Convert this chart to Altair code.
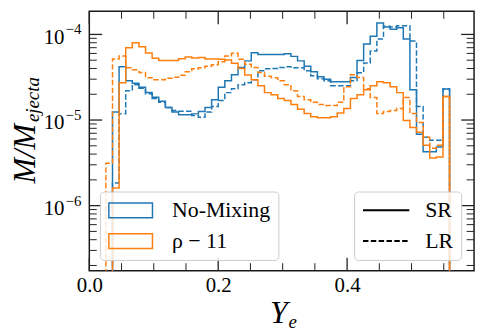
import altair as alt
import pandas as pd

# ---- data ----
EDGES = [0.0257, 0.0360, 0.0462, 0.0565, 0.0667, 0.0770, 0.0872, 0.0975, 0.1077, 0.1180,
         0.1283, 0.1385, 0.1488, 0.1590, 0.1693, 0.1795, 0.1898, 0.2001, 0.2103, 0.2206,
         0.2308, 0.2411, 0.2513, 0.2616, 0.2718, 0.2821, 0.2924, 0.3026, 0.3129, 0.3231,
         0.3334, 0.3436, 0.3539, 0.3642, 0.3744, 0.3847, 0.3949, 0.4052, 0.4154, 0.4257,
         0.4359, 0.4462, 0.4565, 0.4667, 0.4770, 0.4872, 0.4975, 0.5077, 0.5180, 0.5282,
         0.5385, 0.5488, 0.5590]

NM_SR = [0, 1.24e-5, 4.18e-5, 2.88e-5, 2.69e-5, 2.41e-5, 2.1e-5, 1.84e-5, 1.66e-5, 1.4e-5,
         1.24e-5, 1.15e-5, 1.15e-5, 1.18e-5, 1.26e-5, 1.4e-5, 1.73e-5, 2.42e-5, 2.88e-5, 3.38e-5,
         4.1e-5, 4.91e-5, 6.12e-5, 5.83e-5, 5.83e-5, 5.83e-5, 5.83e-5, 5.96e-5, 5.54e-5, 4.91e-5,
         4.24e-5, 3.66e-5, 3.2e-5, 2.99e-5, 2.8e-5, 2.8e-5, 2.8e-5, 3.14e-5, 4.97e-5, 7.72e-5,
         9.55e-5, 1.36e-4, 1.22e-4, 1.15e-4, 1.2e-4, 8.83e-5, 2.26e-5, 6.81e-6, 4.25e-6, 4.25e-6,
         4.85e-6, 2.31e-5]

NM_LR = [0, 1.84e-6, 1.18e-5, 2.2e-5, 2.59e-5, 2.35e-5, 2.03e-5, 1.78e-5, 1.61e-5, 1.4e-5,
         1.29e-5, 1.27e-5, 1.27e-5, 1.13e-5, 1.08e-5, 1.24e-5, 1.44e-5, 1.69e-5, 2.09e-5, 2.32e-5,
         2.59e-5, 2.73e-5, 2.95e-5, 3.76e-5, 3.96e-5, 3.99e-5, 4.1e-5, 4.18e-5, 4.07e-5, 4.07e-5,
         3.76e-5, 3.29e-5, 3.03e-5, 2.88e-5, 2.52e-5, 2.52e-5, 2.52e-5, 2.88e-5, 3.56e-5, 4.65e-5,
         6.4e-5, 8.83e-5, 1.25e-4, 1.22e-4, 1.26e-4, 1.26e-4, 8.36e-5, 1.44e-5, 6.28e-6, 5.8e-6,
         5.8e-6, 2.31e-5]

R11_SR = [0, 1.61e-6, 2.73e-5, 7.0e-5, 8.0e-5, 7.18e-5, 6.07e-5, 5.27e-5, 4.97e-5, 4.97e-5,
          4.97e-5, 5.2e-5, 5.45e-5, 5.31e-5, 5.38e-5, 5.17e-5, 5.17e-5, 5.13e-5, 5.03e-5, 4.61e-5,
          3.99e-5, 3.35e-5, 2.95e-5, 2.52e-5, 2.09e-5, 1.98e-5, 1.78e-5, 1.69e-5, 1.52e-5, 1.34e-5,
          1.19e-5, 1.09e-5, 1.06e-5, 1.06e-5, 1.09e-5, 1.21e-5, 1.36e-5, 1.78e-5, 1.98e-5, 2.26e-5,
          2.52e-5, 2.8e-5, 2.73e-5, 2.45e-5, 2.09e-5, 9.9e-6, 8.2e-6, 7.2e-6, 5.08e-6, 3.59e-6,
          3.69e-6, 1.88e-5]

R11_LR = [3.12e-6, 5.17e-5, 5.61e-5, 4.07e-5, 3.86e-5, 3.59e-5, 3.12e-5, 2.95e-5, 2.95e-5, 3.08e-5,
          3.16e-5, 3.33e-5, 3.66e-5, 3.96e-5, 4.07e-5, 4.24e-5, 4.41e-5, 4.78e-5, 5.61e-5, 6.02e-5,
          5.13e-5, 4.49e-5, 4.1e-5, 3.59e-5, 3.24e-5, 3.12e-5, 2.88e-5, 2.59e-5, 2.2e-5, 1.88e-5,
          1.73e-5, 1.61e-5, 1.52e-5, 1.48e-5, 1.48e-5, 1.61e-5, 2.45e-5, 3.38e-5, 3.14e-5, 2.32e-5,
          1.83e-5, 1.19e-5, 1.26e-5, 1.29e-5, 1.36e-5, 1.83e-5, 1.19e-5, 9.38e-6, 6.28e-6, 4.69e-6,
          5.08e-6, 1.88e-5]

MIX_LABELS = ["No-Mixing", "\u03c1 \u2212 11"]
RES_LABELS = ["SR", "LR"]
X_MAJOR = [0.0, 0.2, 0.4]
X_MINOR = [0.05, 0.1, 0.15, 0.25, 0.3, 0.35, 0.45, 0.5, 0.55]
Y_MAJOR = [1e-6, 1e-5, 1e-4]
Y_EXP = ["\u22126", "\u22125", "\u22124"]
Y_MINOR = [2e-7, 3e-7, 4e-7, 5e-7, 6e-7, 7e-7, 8e-7, 9e-7,
           2e-6, 3e-6, 4e-6, 5e-6, 6e-6, 7e-6, 8e-6, 9e-6,
           2e-5, 3e-5, 4e-5, 5e-5, 6e-5, 7e-5, 8e-5, 9e-5]
FLOOR = 1e-9  # below the visible range: empty bins drop to the bottom edge

BLUE = "#1f77b4"
ORANGE = "#ff7f0e"
FONT = "Liberation Serif, DejaVu Serif, serif"
TICK = "#222222"

W, H = 388, 261.5
xscale = alt.Scale(domain=[0.0, 0.597], nice=False, zero=False)
yscale = alt.Scale(type="log", domain=[1.74e-7, 1.86e-4], nice=False)
XAXIS = alt.Axis(values=X_MAJOR, format=".1f", ticks=False, domain=False, grid=False,
                 labelFont=FONT, labelFontSize=21, labelColor="black",
                 labelPadding=4, labelFlush=False, title=None)

rows = []
series = [(MIX_LABELS[0], RES_LABELS[0], NM_SR), (MIX_LABELS[0], RES_LABELS[1], NM_LR),
          (MIX_LABELS[1], RES_LABELS[0], R11_SR), (MIX_LABELS[1], RES_LABELS[1], R11_LR)]
for mix, res, vals in series:
    first = next(i for i, v in enumerate(vals) if v > 0)
    pts = [(EDGES[first], FLOOR)]
    pts += [(EDGES[k], vals[k] if vals[k] > 0 else FLOOR) for k in range(first, len(vals))]
    pts += [(EDGES[len(vals)], FLOOR)]
    for i, (x, y) in enumerate(pts):
        rows.append({"x": x, "y": y, "mix": mix, "res": res, "o": i})
df = pd.DataFrame(rows)

legend_common = dict(title=None, orient="none", labelFont=FONT, labelFontSize=22,
                     labelColor="black", fillColor="rgba(255,255,255,0.8)",
                     strokeColor="#cccccc", cornerRadius=4,
                     padding=8, rowPadding=9, labelLimit=300, symbolSize=400)

lines = alt.Chart(df).mark_line(interpolate="step-after", clip=True, strokeWidth=1.5,
                                color="black").encode(
    x=alt.X("x:Q", scale=xscale, axis=XAXIS),
    y=alt.Y("y:Q", scale=yscale, axis=None),
    color=alt.Color("mix:N", scale=alt.Scale(domain=MIX_LABELS, range=[BLUE, ORANGE]),
                    legend=alt.Legend(legendX=10.7, legendY=181.7,
                                      symbolType="M-2.2,-0.75H2.2V0.75H-2.2Z",
                                      symbolOffset=12, labelOffset=30.7,
                                      symbolStrokeWidth=1.5, symbolFillColor="transparent",
                                      **legend_common)),
    strokeDash=alt.StrokeDash("res:N",
                              scale=alt.Scale(domain=RES_LABELS, range=[[1, 0], [5.5, 2.4]]),
                              legend=alt.Legend(legendX=267, legendY=181.7,
                                                symbolType="M-2.335,0L2.335,0",
                                                symbolOffset=13.35, labelOffset=28.4,
                                                symbolStrokeWidth=2,
                                                symbolStrokeColor="black",
                                                **legend_common)),
    order=alt.Order("o:Q"),
)


def xticks(vals, length, width, top):
    y0, y1 = (0, length) if top else (H, H - length)
    return alt.Chart(pd.DataFrame({"v": vals})).mark_rule(color=TICK, strokeWidth=width).encode(
        x=alt.X("v:Q", scale=xscale, axis=XAXIS), y=alt.value(y0), y2=alt.value(y1))


def yticks(vals, length, width, right):
    x0, x1 = (W, W - length) if right else (0, length)
    return alt.Chart(pd.DataFrame({"v": vals})).mark_rule(color=TICK, strokeWidth=width).encode(
        y=alt.Y("v:Q", scale=yscale, axis=None), x=alt.value(x0), x2=alt.value(x1))


ticks = [xticks(X_MAJOR, 13, 1.3, False), xticks(X_MINOR, 7.5, 1.0, False),
         xticks(X_MAJOR, 13, 1.3, True), xticks(X_MINOR, 7.5, 1.0, True),
         yticks(Y_MAJOR, 13, 1.3, False), yticks(Y_MINOR, 7.5, 1.0, False),
         yticks(Y_MAJOR, 13, 1.3, True), yticks(Y_MINOR, 7.5, 1.0, True)]

ylab = pd.DataFrame({"v": Y_MAJOR, "exp": Y_EXP})
ylab_base = alt.Chart(ylab).mark_text(align="right", baseline="alphabetic", dy=9.4, font=FONT,
                                      fontSize=21, color="black").encode(
    x=alt.value(-25), y=alt.Y("v:Q", scale=yscale, axis=None), text=alt.value("10"))
ylab_exp = alt.Chart(ylab).mark_text(align="left", baseline="alphabetic", dy=0, font=FONT,
                                     fontSize=15, color="black").encode(
    x=alt.value(-24), y=alt.Y("v:Q", scale=yscale, axis=None), text="exp:N")


def label(txt, x, y, size, angle=0, align="center"):
    return alt.Chart(pd.DataFrame({"t": [txt]})).mark_text(
        font=FONT, fontStyle="italic", fontWeight="normal", fontSize=size, angle=angle,
        align=align, baseline="alphabetic", color="black").encode(
        x=alt.value(x), y=alt.value(y), text="t:N")


titles = [label("M/M", -55, 143.5, 31, angle=270),
          label("ejecta", -51, 89, 19, angle=270),
          label("Y", 191, 314, 32),
          label("e", 201, 319, 19, align="left")]

chart = alt.layer(lines, *ticks, ylab_base, ylab_exp, *titles).properties(
    width=W, height=H,
    autosize=alt.AutoSizeParams(type="none"),
    padding={"left": 82, "top": 2, "right": 6, "bottom": 62},
).configure(font=FONT).configure_view(stroke="#1a1a1a", strokeWidth=1.5).configure_legend(
    strokeWidth=1, labelFont=FONT)

chart.save("out.html", embed_options={"renderer": "svg", "actions": False})
